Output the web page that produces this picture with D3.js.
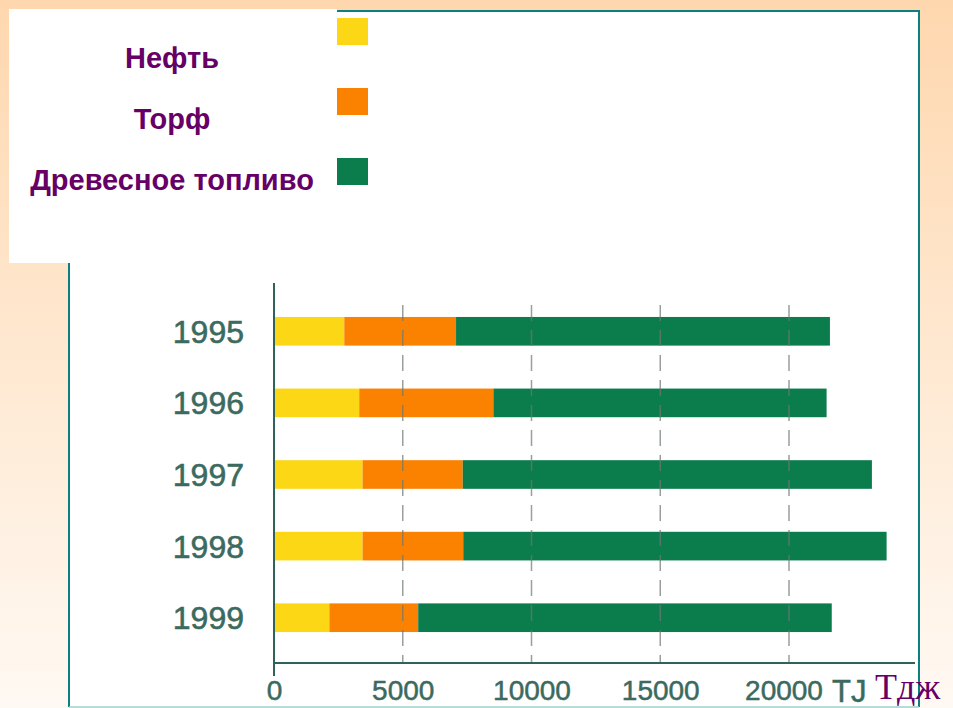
<!DOCTYPE html>
<html>
<head>
<meta charset="utf-8">
<script src="https://cdn.jsdelivr.net/npm/d3@7"></script>
<style>
  body { margin: 0; overflow: hidden; }
  svg { display: block; }
</style>
</head>
<body>
<div id="chart"></div>
<script>
const years = ['1995', '1996', '1997', '1998', '1999']
const fuels = ['Нефть', 'Торф', 'Древесное топливо']
const oil = [2730, 3310, 3440, 3440, 2150]
const peat = [4340, 5210, 3890, 3910, 3450]
const wood = [14520, 12940, 15890, 16440, 16060]
const xTicks = [0, 5000, 10000, 15000, 20000]
const unitLabel = 'TJ'
const unitRu = 'Тдж'

const colors = ['#fbd716', '#fb8200', '#0b7c4c']
const width = 953
const height = 708

const rows = years.map((y, i) => ({ year: y, 'Нефть': oil[i], 'Торф': peat[i], 'Древесное топливо': wood[i] }))
const stacked = d3.stack().keys(fuels)(rows)

const svg = d3.select('#chart').append('svg')
  .attr('width', width)
  .attr('height', height)

// peach background
const grad = svg.append('defs').append('linearGradient')
  .attr('id', 'bg').attr('x1', 0).attr('y1', 0).attr('x2', 0).attr('y2', 1)
grad.append('stop').attr('offset', '0%').attr('stop-color', '#fed7ae')
grad.append('stop').attr('offset', '100%').attr('stop-color', '#fff9f3')
svg.append('rect').attr('width', width).attr('height', height).attr('fill', 'url(#bg)')

// white panel with teal frame
svg.append('rect')
  .attr('x', 69).attr('y', 11).attr('width', 850).attr('height', 696)
  .attr('fill', '#fff')
svg.append('path')
  .attr('d', 'M69,707 L69,11 L919,11 L919,707')
  .attr('fill', 'none').attr('stroke', '#0a8080').attr('stroke-width', 2)
svg.append('line')
  .attr('x1', 69).attr('x2', 919).attr('y1', 707).attr('y2', 707)
  .attr('stroke', '#9fd2cf').attr('stroke-width', 1.5)

const x = d3.scaleLinear().domain([0, 20000]).range([274, 789])
const y = d3.scaleBand().domain(years).range([274, 675]).padding(0.6)

// bars
svg.append('g').selectAll('g')
  .data(stacked)
  .join('g')
    .attr('fill', (d, i) => colors[i])
  .selectAll('rect')
  .data(d => d)
  .join('rect')
    .attr('x', d => x(d[0]))
    .attr('y', d => y(d.data.year))
    .attr('width', d => x(d[1]) - x(d[0]))
    .attr('height', y.bandwidth())

// dashed grid
svg.append('g').selectAll('line')
  .data(xTicks.slice(1))
  .join('line')
    .attr('x1', d => x(d)).attr('x2', d => x(d))
    .attr('y1', 305).attr('y2', 663)
    .attr('stroke', '#6f7775').attr('stroke-width', 1.5)
    .attr('stroke-dasharray', '16,9')
    .attr('opacity', 0.7)

// axes lines
svg.append('line')
  .attr('x1', 274).attr('x2', 274).attr('y1', 283).attr('y2', 676)
  .attr('stroke', '#2f625a').attr('stroke-width', 2)
svg.append('line')
  .attr('x1', 274).attr('x2', 915).attr('y1', 663).attr('y2', 663)
  .attr('stroke', '#2f625a').attr('stroke-width', 2)

// year labels
svg.append('g').selectAll('text')
  .data(years)
  .join('text')
    .attr('x', 244)
    .attr('y', d => y(d) + y.bandwidth() / 2)
    .attr('dy', '0.36em')
    .attr('text-anchor', 'end')
    .attr('font-family', 'Liberation Sans, Arial, sans-serif')
    .attr('font-size', 32)
    .attr('fill', '#3b6a5f')
    .attr('stroke', '#3b6a5f').attr('stroke-width', 0.6)
    .text(d => d)

// x axis tick labels
const xAxis = svg.append('g')
  .attr('transform', 'translate(0,663)')
  .call(d3.axisBottom(x).tickValues(xTicks).tickFormat(d3.format('d')).tickSize(0).tickPadding(17))
xAxis.select('.domain').remove()
xAxis.selectAll('text')
  .attr('font-family', 'Liberation Sans, Arial, sans-serif')
  .attr('font-size', 28)
  .attr('fill', '#3b6a5f')
  .attr('stroke', '#3b6a5f').attr('stroke-width', 0.5)
xAxis.selectAll('.tick').filter(d => d === 20000)
  .attr('transform', d => `translate(${x(d) - 5},0)`)

svg.append('text')
  .attr('x', 832).attr('y', 702)
  .attr('font-family', 'Liberation Sans, Arial, sans-serif')
  .attr('font-size', 31)
  .attr('fill', '#3b6a5f')
  .attr('stroke', '#3b6a5f').attr('stroke-width', 0.5)
  .text(unitLabel)

// legend swatches, partly covered by the white label box
const legendY = d3.scalePoint().domain(fuels).range([18, 158])
svg.append('g').selectAll('rect')
  .data(fuels)
  .join('rect')
    .attr('x', 320).attr('y', d => legendY(d))
    .attr('width', 48).attr('height', 27)
    .attr('fill', (d, i) => colors[i])

svg.append('rect')
  .attr('x', 9).attr('y', 9).attr('width', 328).attr('height', 254)
  .attr('fill', '#fff')

const labelY = d3.scalePoint().domain(fuels).range([68, 190])
svg.append('g').selectAll('text')
  .data(fuels)
  .join('text')
    .attr('x', 172)
    .attr('y', d => labelY(d))
    .attr('text-anchor', 'middle')
    .attr('font-family', 'Liberation Sans, Arial, sans-serif')
    .attr('font-weight', 'bold')
    .attr('font-size', 29)
    .attr('fill', '#660066')
    .text(d => d)

svg.append('text')
  .attr('x', 875).attr('y', 699)
  .attr('font-family', 'Liberation Serif, Times New Roman, serif')
  .attr('font-size', 36)
  .attr('fill', '#660066')
  .text(unitRu)
</script>
</body>
</html>
